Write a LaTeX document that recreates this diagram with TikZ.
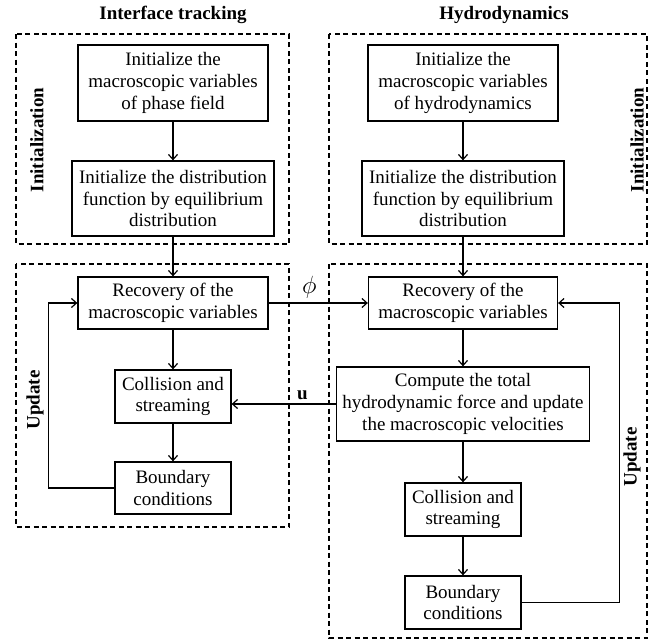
\documentclass[tikz,border=0pt]{standalone}
\usepackage{fontspec}
\setmainfont{Liberation Serif}
\usetikzlibrary{arrows.meta}
\begin{document}
\begin{tikzpicture}[x=1pt,y=-1pt,
  box/.style={draw,line width=1.3pt,align=center,inner sep=0pt,font=\fontsize{19}{21.7}\selectfont},
  arr/.style={line width=1.2pt,-{Straight Barb[length=5pt,width=9pt,line width=1.2pt]}},
  frame/.style={line width=1.2pt,dash pattern=on 5pt off 3.5pt},
  lab/.style={font=\fontsize{19}{21}\selectfont\bfseries}]
\useasboundingbox (0,0) rectangle (654,640);
% dashed frames
\draw[frame] (16,34) rectangle (289,244);
\draw[frame] (329,34) rectangle (647,244);
\draw[frame] (16,264) rectangle (289,527);
\draw[frame] (329,264) rectangle (647,638);
% titles and labels
\node[lab] (t1) at (173,15) {Interface tracking};
\node[lab] (t2) at (504,15) {Hydrodynamics};
\node[lab,rotate=90] (i1) at (37,140) {Initialization};
\node[lab,rotate=90] (i2) at (637,140) {Initialization};
\node[lab,rotate=90] (u1) at (35,400) {Update};
\node[lab,rotate=90] (u2) at (632,457) {Update};
% left column
\node[box,minimum width=190pt,minimum height=76pt] (L1) at (173,83) {Initialize the\\macroscopic variables\\of phase field};
\node[box,minimum width=202pt,minimum height=75pt] (L2) at (173,198.5) {Initialize the distribution\\function by equilibrium\\distribution};
\node[box,minimum width=190pt,minimum height=52pt] (RL) at (173,303) {Recovery of the\\macroscopic variables};
\node[box,minimum width=116pt,minimum height=53pt] (CL) at (173,396.5) {Collision and\\streaming};
\node[box,minimum width=116pt,minimum height=52pt] (BL) at (173,488) {Boundary\\conditions};
% right column
\node[box,minimum width=190pt,minimum height=76pt] (R1) at (463,83) {Initialize the\\macroscopic variables\\of hydrodynamics};
\node[box,minimum width=202pt,minimum height=75pt] (R2) at (463,198.5) {Initialize the distribution\\function by equilibrium\\distribution};
\node[box,minimum width=189pt,minimum height=52pt] (RR) at (463,303) {Recovery of the\\macroscopic variables};
\node[box,minimum width=253pt,minimum height=74pt] (CP) at (463,404) {Compute the total\\hydrodynamic force and update\\the macroscopic velocities};
\node[box,minimum width=116pt,minimum height=53pt] (CR) at (463,509.5) {Collision and\\streaming};
\node[box,minimum width=116pt,minimum height=53pt] (BR) at (463,602.5) {Boundary\\conditions};
% arrows
\draw[arr] (L1) -- (L2);
\draw[arr] (L2) -- (RL);
\draw[arr] (RL) -- (CL);
\draw[arr] (CL) -- (BL);
\draw[arr] (BL.west) -- ++(-66,0) |- (RL.west);
\draw[arr] (R1) -- (R2);
\draw[arr] (R2) -- (RR);
\draw[arr] (RR) -- (CP);
\draw[arr] (CP) -- (CR);
\draw[arr] (CR) -- (BR);
\draw[arr] (BR.east) -- ++(98,0) |- (RR.east);
\draw[arr] (RL.east) -- node[pos=0.41,above=1pt,font=\fontsize{23}{25}\selectfont] (phi) {$\phi$} (RR.west);
\draw[arr] (CP.west) -- node[pos=0.32,above=0pt,font=\fontsize{19}{21}\selectfont\bfseries] (uu) {u} (CP.west -| CL.east);
\end{tikzpicture}
\end{document}
